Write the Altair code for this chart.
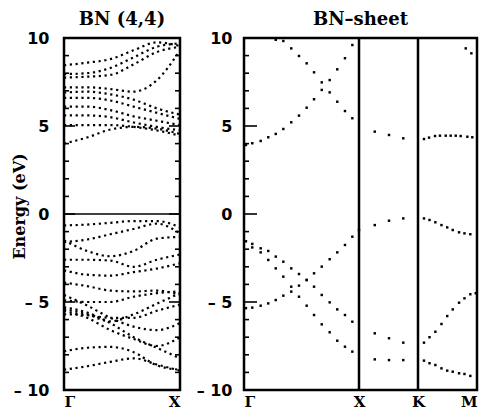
import json
import altair as alt
import pandas as pd

# ---------------- axis text ----------------
y_ticks = [-10, -5, 0, 5, 10]
y_tick_text = ["\u2013 10", "\u2013 5", "0", "5", "10"]
y_minor = [-9, -8, -7, -6, -4, -3, -2, -1, 1, 2, 3, 4, 6, 7, 8, 9]
y_major = [-5, 0, 5]
fermi = [0.0]

# ---------------- BN (4,4) nanotube bands (left panel) ----------------
tube_k = [0.0, 0.2, 0.4, 0.6, 0.8, 1.0]
tube_labels_k = [0.0, 1.0]
tube_labels = ["\u0393", "X"]
tube_c1 = [4.00, 4.35, 4.80, 4.95, 4.85, 4.55]
tube_c2 = [5.05, 5.05, 5.05, 4.95, 4.75, 4.45]
tube_c3 = [5.60, 5.60, 5.50, 5.20, 4.95, 4.75]
tube_c4 = [6.10, 6.10, 5.90, 5.55, 5.30, 5.05]
tube_c5 = [6.60, 6.60, 6.45, 6.10, 5.75, 5.40]
tube_c6 = [6.90, 6.95, 6.80, 6.50, 6.00, 5.65]
tube_c7 = [7.20, 7.20, 7.10, 6.95, 7.60, 9.30]
tube_c8 = [7.75, 7.80, 7.90, 8.50, 9.20, 9.50]
tube_c9 = [7.95, 8.00, 8.30, 8.90, 9.50, 9.70]
tube_c10 = [8.45, 8.60, 8.80, 9.30, 9.75, 9.55]
tube_v1 = [-0.65, -0.60, -0.50, -0.40, -0.40, -0.75]
tube_v2 = [-1.60, -1.45, -1.15, -0.85, -0.55, -1.10]
tube_v3 = [-1.50, -2.10, -2.40, -2.10, -1.40, -1.30]
tube_v4 = [-2.60, -2.60, -2.65, -3.00, -2.60, -2.30]
tube_v5 = [-3.20, -3.45, -3.50, -3.30, -3.10, -2.80]
tube_v6 = [-3.90, -4.10, -4.35, -4.40, -4.35, -4.60]
tube_v7 = [-4.90, -5.00, -5.00, -4.70, -4.50, -4.40]
tube_v8 = [-5.30, -5.60, -6.20, -7.00, -7.60, -8.20]
tube_v9 = [-5.40, -5.70, -6.10, -5.70, -5.10, -4.50]
tube_v10 = [-5.70, -5.75, -5.90, -5.90, -5.50, -5.15]
tube_v11 = [-5.50, -5.90, -6.60, -7.10, -7.50, -7.00]
tube_v12 = [-4.60, -5.20, -5.90, -6.40, -6.60, -6.20]
tube_v13 = [-7.80, -7.60, -7.55, -7.85, -8.60, -8.85]
tube_v14 = [-8.85, -8.65, -8.40, -8.20, -8.55, -8.90]
tube_bands = [tube_c1, tube_c2, tube_c3, tube_c4, tube_c5, tube_c6, tube_c7,
              tube_c8, tube_c9, tube_c10, tube_v1, tube_v2, tube_v3, tube_v4,
              tube_v5, tube_v6, tube_v7, tube_v8, tube_v9, tube_v10, tube_v11,
              tube_v12, tube_v13, tube_v14]

# ---------------- BN sheet bands (right panel) ----------------
sym_k = [0.0, 1.0, 1.513, 2.026]
sym_labels = ["\u0393", "X", "K", "M"]

k_gx = [0.017, 0.072, 0.145, 0.211, 0.276, 0.342, 0.411, 0.478, 0.545,
        0.609, 0.676, 0.745, 0.811, 0.878, 0.942, 1.0]
gx_c1 = [3.92, 4.02, 4.15, 4.36, 4.55, 4.83, 5.21, 5.59, 6.04, 6.52, 7.05,
         7.61, 8.22, 8.85, 9.60, None]
gx_c2 = [None, None, None, None, 9.90, 9.83, 9.41, 8.98, 8.56, 8.05, 7.48,
         6.91, 6.38, 5.85, 5.44, None]
gx_v1 = [-5.35, -5.32, -5.21, -5.08, -4.89, -4.64, -4.41, -4.07, -3.75,
         -3.37, -2.99, -2.57, -2.18, -1.76, -1.29, -0.91]
gx_v2 = [-1.55, -1.70, -1.95, -2.10, -2.42, -2.71, -3.09, -3.41, -3.75,
         -4.13, -4.60, -5.02, -5.42, -5.74, -6.12, None]
gx_v3 = [None, -1.90, -2.18, -2.61, -3.09, -3.56, -4.13, -4.70, -5.21,
         -5.74, -6.27, -6.72, -7.20, -7.54, -7.82, None]

k_xk = [1.137, 1.261, 1.385]
xk_c1 = [4.68, 4.49, 4.30]
xk_v1 = [-0.63, -0.38, -0.25]
xk_v2 = [-6.78, -7.06, -7.31]
xk_v3 = [-8.26, -8.30, -8.30]

k_km_c = [1.565, 1.609, 1.661, 1.704, 1.754, 1.797, 1.841, 1.884, 1.942, 1.985]
km_c1 = [4.26, 4.34, 4.43, 4.45, 4.45, 4.45, 4.45, 4.43, 4.39, 4.36]
k_km = [1.565, 1.613, 1.664, 1.717, 1.767, 1.815, 1.870, 1.917, 1.968, 2.015]
km_v1 = [-0.25, -0.34, -0.47, -0.63, -0.76, -0.91, -1.04, -1.10, -1.15, None]
km_v2 = [-7.31, -7.00, -6.69, -6.25, -5.80, -5.42, -5.04, -4.79, -4.56, -4.50]
km_v3 = [-8.33, -8.48, -8.58, -8.77, -8.90, -8.96, -9.05, -9.09, -9.20, None]
k_km_top = [1.928, 1.977]
km_top = [9.41, 9.13]


def rows_of(name, ks, es):
    return [{"band": name, "k": k, "E": e} for k, e in zip(ks, es) if e is not None]


tube_rows = []
for i, b in enumerate(tube_bands):
    tube_rows += rows_of("t%d" % i, tube_k, b)
tube_df = pd.DataFrame(tube_rows)

sheet_rows = []
for name, ks, es in [("gc1", k_gx, gx_c1), ("gc2", k_gx, gx_c2), ("gv1", k_gx, gx_v1),
                     ("gv2", k_gx, gx_v2), ("gv3", k_gx, gx_v3),
                     ("xc1", k_xk, xk_c1), ("xv1", k_xk, xk_v1), ("xv2", k_xk, xk_v2),
                     ("xv3", k_xk, xk_v3), ("kc1", k_km_c, km_c1), ("kv1", k_km, km_v1),
                     ("kv2", k_km, km_v2), ("kv3", k_km, km_v3), ("kt", k_km_top, km_top)]:
    sheet_rows += rows_of(name, ks, es)
sheet_df = pd.DataFrame(sheet_rows)

minor_df = pd.DataFrame({"E": y_minor})
major_df = pd.DataFrame({"E": y_major})
fermi_df = pd.DataFrame({"E": fermi})
sym_df = pd.DataFrame({"k": sym_k[1:3]})

H = 352
WL = 116
WR = 233

ylabel_expr = "%s[indexof(%s, datum.value)]" % (
    json.dumps(y_tick_text, ensure_ascii=False), json.dumps(y_ticks))
yscale = alt.Scale(domain=[-10, 10], nice=False, zero=False)


def yenc(axis):
    return alt.Y("E:Q", scale=yscale, axis=axis)


yaxis_left = alt.Axis(values=y_ticks, labelExpr=ylabel_expr, labelPadding=15,
                      title="Energy (eV)", titleX=-37, titleY=168,
                      titleAngle=-90, titleAlign="center", titleBaseline="bottom")
yaxis_right = alt.Axis(values=y_ticks, labelExpr=ylabel_expr, labelPadding=12, title=None)

xl_expr = "%s[indexof(%s, datum.value)]" % (
    json.dumps(tube_labels, ensure_ascii=False), json.dumps(tube_labels_k))
xr_expr = "%s[indexof(%s, datum.value)]" % (
    json.dumps(sym_labels, ensure_ascii=False), json.dumps(sym_k))
xscale_l = alt.Scale(domain=[0, 1], nice=False, zero=False)
xscale_r = alt.Scale(domain=[0, sym_k[-1]], nice=False, zero=False)
xaxis_l = alt.Axis(values=tube_labels_k, labelExpr=xl_expr, title=None)
xaxis_r = alt.Axis(values=sym_k, labelExpr=xr_expr, title=None)


def tick_layers(df, yaxis, w, length, right_side=True):
    layers = [alt.Chart(df).mark_rule(strokeWidth=1.6, color="black").encode(
        y=yenc(yaxis), x=alt.value(0), x2=alt.value(length))]
    if right_side:
        layers.append(alt.Chart(df).mark_rule(strokeWidth=1.6, color="black").encode(
            y=yenc(yaxis), x=alt.value(w), x2=alt.value(w - length)))
    return layers


left_lines = alt.Chart(tube_df).mark_line(
    color="black", strokeWidth=2.2, strokeDash=[2.2, 3.6], interpolate="monotone", clip=True
).encode(
    x=alt.X("k:Q", scale=xscale_l, axis=xaxis_l),
    y=yenc(yaxis_left),
    detail="band:N",
)
left_zero = alt.Chart(fermi_df).mark_rule(color="black", strokeWidth=1.6).encode(y=yenc(yaxis_left))
left = alt.layer(
    left_lines, left_zero,
    *tick_layers(minor_df, yaxis_left, WL, 5),
    *tick_layers(major_df, yaxis_left, WL, 11),
).properties(width=WL, height=H, title="BN (4,4)")

right_pts = alt.Chart(sheet_df).mark_square(color="black", size=6, opacity=1, clip=True).encode(
    x=alt.X("k:Q", scale=xscale_r, axis=xaxis_r),
    y=yenc(yaxis_right),
)
right_sym = alt.Chart(sym_df).mark_rule(color="black", strokeWidth=2.5).encode(
    x=alt.X("k:Q", scale=xscale_r, axis=xaxis_r))
right = alt.layer(
    right_pts, right_sym,
    *tick_layers(minor_df, yaxis_right, WR, 5, right_side=False),
    *tick_layers(major_df, yaxis_right, WR, 13, right_side=False),
).properties(width=WR, height=H, title="BN\u2013sheet")

chart = alt.hconcat(left, right, spacing=64, bounds="flush").properties(
    padding={"left": 9, "top": 9, "right": 0, "bottom": 0},
    background="white",
).configure_view(
    stroke="black", strokeWidth=2.5
).configure_title(
    font="DejaVu Serif", fontSize=18, fontWeight="bold", color="black", offset=1
).configure_axis(
    grid=False, domain=False, ticks=False,
    labelFont="DejaVu Sans", labelFontSize=16, labelFontWeight="bold", labelColor="black",
    titleFont="DejaVu Serif", titleFontSize=16, titleFontWeight="bold", titleColor="black",
).configure_axisX(
    labelFont="DejaVu Serif", labelFontSize=15, labelPadding=4
)

chart.save("out.html", embed_options={"renderer": "svg", "actions": False})
